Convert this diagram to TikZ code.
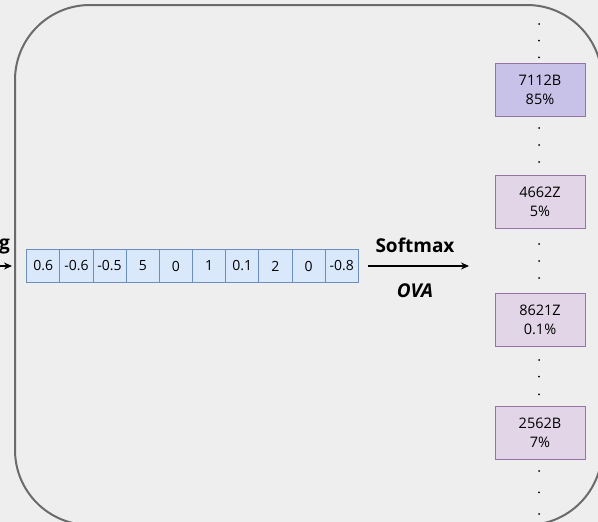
\documentclass[tikz,border=0pt]{standalone}
\usepackage{fontspec}
\setmainfont{Open Sans}
\usetikzlibrary{arrows.meta,positioning}
\definecolor{bgcol}{HTML}{EEEEEE}
\definecolor{framecol}{HTML}{6B6B6B}
\definecolor{cellfill}{HTML}{DAE8FC}
\definecolor{cellline}{HTML}{6C8EBF}
\definecolor{clsfill}{HTML}{E1D5E7}
\definecolor{clstopfill}{HTML}{C9C2E8}
\definecolor{clsline}{HTML}{9673A6}
\tikzset{
	cell/.style={draw=cellline, fill=cellfill, line width=0.9pt, minimum width=33.2pt, minimum height=33.3pt, inner sep=0, font=\fontsize{14}{16}\selectfont},
	cls/.style={draw=clsline, fill=clsfill, line width=0.9pt, minimum width=90pt, minimum height=53pt, inner sep=0, align=center, font=\fontsize{14.5}{19}\selectfont},
	clstop/.style={cls, fill=clstopfill},
	vdot/.style={circle, fill=black, inner sep=0, minimum size=2pt},
	diredge/.style={-{Stealth[width=7pt,length=8pt]}, color=black, line width=1.2pt},
	steplabel/.style={font=\fontsize{19}{21}\selectfont\bfseries},
	frame/.style={draw=framecol, line width=2pt, rounded corners=75pt}
}
\begin{document}
\begin{tikzpicture}[x=1pt,y=-1pt]
	\fill[bgcol] (0,0) rectangle (598,522);
	\useasboundingbox (0,0) rectangle (598,522);
	%%% frame
	\draw[frame] (15,5) rectangle (602,525);

	%%% input
	\node[steplabel, anchor=base east, inner sep=0] (word) at (10,249) {g};
	\coordinate (inA) at (-2,266);
	\coordinate (inB) at (12,266);
	\draw[diredge] (inA) -- (inB);

	%%% vector
	\foreach \v [count=\i] in {0.6,-0.6,-0.5,5,0,1,0.1,2,0,-0.8}
		\node[cell] (c\i) at (26.7+33.16*\i-16.58,266) {\v};

	%%% softmax
	\coordinate (smA) at (368,266);
	\coordinate (smB) at (469,266);
	\draw[diredge] (smA) -- (smB);
	\node[steplabel] (soft) at (415,245) {Softmax};
	\node[steplabel, font=\fontsize{19}{21}\selectfont\bfseries\itshape] (ova) at (415,291) {OVA};

	%%% classes
	\node[clstop] (k1) at (540,89.5) {7112B\\85\%};
	\node[cls] (k2) at (540,202) {4662Z\\5\%};
	\node[cls] (k3) at (540,320.3) {8621Z\\0.1\%};
	\node[cls] (k4) at (540,433.3) {2562B\\7\%};

	%%% dots
	\foreach \y in {24,40.7,57.3,128,145,162,244,261,278,360,376.7,394.3,471,492.3,514}
		\node[vdot] at (539,\y) {};
\end{tikzpicture}
\end{document}
